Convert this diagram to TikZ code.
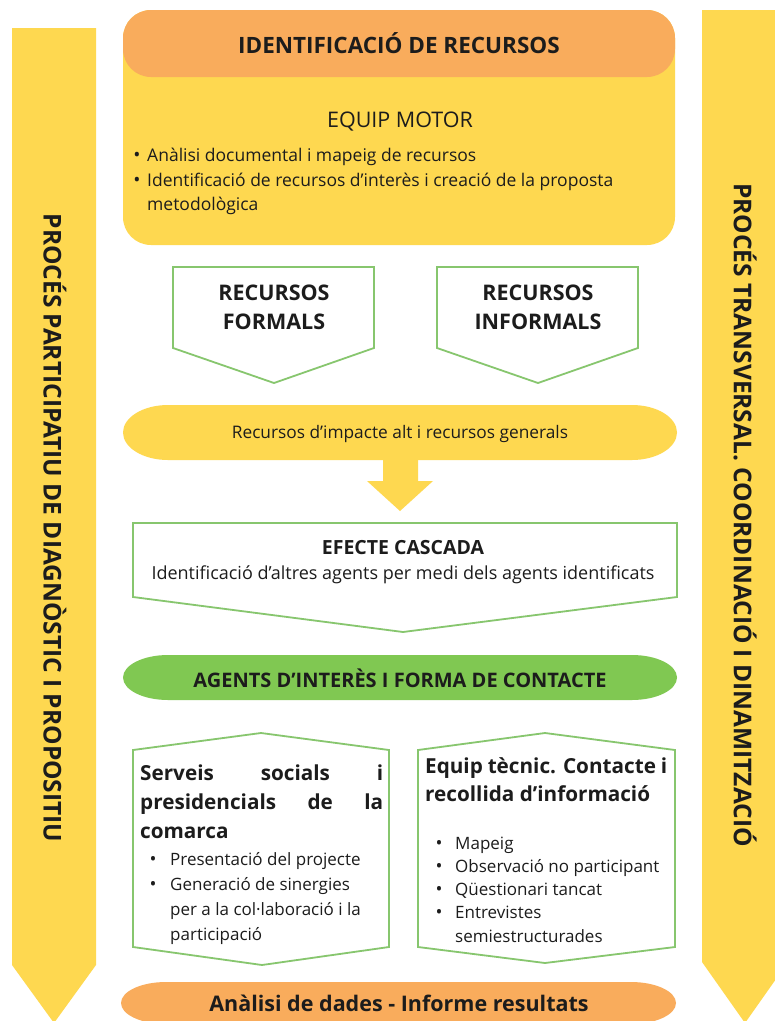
\documentclass[tikz,border=0pt]{standalone}
\usepackage{fontspec}
\setmainfont{Open Sans}
\definecolor{cyel}{RGB}{254,216,80}
\definecolor{corg}{RGB}{249,172,92}
\definecolor{cgrn}{RGB}{128,200,82}
\definecolor{cgline}{RGB}{135,198,110}
\definecolor{ctxt}{RGB}{28,28,28}
\newcommand\fsz[2]{\fontsize{#1}{#2}\selectfont}
\begin{document}
\begin{tikzpicture}[x=1pt,y=-1pt,
  every node/.style={inner sep=0pt, text=ctxt},
  gbox/.style={draw=cgline, line width=1.8pt, fill=white, line join=miter},
  side/.style={font=\bfseries\fsz{24.5}{28}, rotate=-90},
  hdr/.style={font=\bfseries\fsz{22.5}{26}},
  boxt/.style={font=\bfseries\fsz{21.5}{29}, align=center},
  smallt/.style={font=\fsz{17.5}{20}, anchor=base west},
  bul/.style={font=\fsz{19}{20}, anchor=base},
  lowt/.style={font=\bfseries\fsz{20.7}{29}, anchor=base west},
  lowb/.style={font=\fsz{17}{20}, anchor=base west},
  lowbul/.style={font=\fsz{18.5}{20}, anchor=base}
]
\useasboundingbox (0,0) rectangle (775,1021);
\fill[white] (0,0) rectangle (775,1021);
\clip (0,0) rectangle (775,1021);

% side arrows
\fill[cyel] (12,28) -- (96,28) -- (96,965) -- (54,1023) -- (12,965) -- cycle;
\fill[cyel] (702,10) -- (788,10) -- (788,962) -- (745,1023) -- (702,962) -- cycle;
\node[side] (lside) at (55,528) {PROCÉS PARTICIPATIU DE DIAGNÒSTIC I PROPOSITIU};
\node[side] (rside) at (745,515) {PROCÉS TRANSVERSAL. COORDINACIÓ I DINAMITZACIÓ};

% top box
\fill[cyel, rounded corners=28pt] (123,10) rectangle (675,245);
\fill[corg, rounded corners=28pt] (123,10) rectangle (675,77);
\node[hdr] (hdr) at (399,43) {IDENTIFICACIÓ DE RECURSOS};
\node[font=\fsz{21.5}{24}, anchor=base] (equip) at (400,127) {EQUIP MOTOR};
\node[bul] (d1) at (137,161) {•};
\node[smallt] (t1) at (147,161) {Anàlisi documental i mapeig de recursos};
\node[bul] (d2) at (137,186) {•};
\node[smallt] (t2) at (147,186) {Identificació de recursos d’interès i creació de la proposta};
\node[smallt] (t3) at (147,210) {metodològica};

% formal / informal
\draw[gbox] (173,267) -- (374,267) -- (374,348) -- (274,383) -- (173,348) -- cycle;
\draw[gbox] (437,267) -- (638,267) -- (638,348) -- (538,383) -- (437,348) -- cycle;
\node[boxt] (form) at (274,307) {RECURSOS\\FORMALS};
\node[boxt] (inform) at (538,307) {RECURSOS\\INFORMALS};

% yellow pill
\fill[cyel] (168,405) -- (632,405) arc[start angle=-90,end angle=90,x radius=45,y radius=27.5] -- (168,460) arc[start angle=90,end angle=270,x radius=45,y radius=27.5] -- cycle;
\node[font=\fsz{17.3}{20}] (imp) at (400,434) {Recursos d’impacte alt i recursos generals};

% block arrow
\fill[cyel] (383,459) -- (418,459) -- (418,481) -- (433,481) -- (400,511) -- (367,481) -- (383,481) -- cycle;

% efecte cascada
\draw[gbox] (133,523) -- (677,523) -- (677,597) -- (403,632) -- (133,597) -- cycle;
\node[font=\bfseries\fsz{19.5}{22}] (casc) at (403,548) {EFECTE CASCADA};
\node[font=\fsz{18}{20}] (casc2) at (403,575) {Identificació d’altres agents per medi dels agents identificats};

% green pill
\fill[cgrn] (168,655) -- (632,655) arc[start angle=-90,end angle=90,x radius=45,y radius=22.5] -- (168,700) arc[start angle=90,end angle=270,x radius=45,y radius=22.5] -- cycle;
\node[font=\bfseries\fsz{20}{22}] (agents) at (400,678) {AGENTS D’INTERÈS I FORMA DE CONTACTE};

% lower boxes
\draw[gbox] (133,750) -- (261,733) -- (389,750) -- (389,947) -- (262,965) -- (133,947) -- cycle;
\draw[gbox] (418,750) -- (545,733) -- (675,750) -- (675,947) -- (545,963) -- (418,947) -- cycle;

\node[lowt] (l1) at (140,780) {\hbox to 243pt{Serveis \hfill socials \hfill i}};
\node[lowt] (l2) at (140,809) {\hbox to 243pt{presidencials \hfill de \hfill la}};
\node[lowt] (l3) at (140,838) {comarca};
\node[lowbul] (lb1) at (153,865) {•};
\node[lowb] (lt1) at (170,865) {Presentació del projecte};
\node[lowbul] (lb2) at (153,890) {•};
\node[lowb] (lt2) at (170,890) {Generació de sinergies};
\node[lowb] (lt3) at (170,915) {per a la col·laboració i la};
\node[lowb] (lt4) at (170,940) {participació};

\node[lowt] (r1) at (425,773) {\hbox to 242pt{Equip \hfill tècnic. \hfill Contacte \hfill i}};
\node[lowt] (r2) at (425,801) {recollida d’informació};
\node[lowbul] (rb1) at (439,849) {•};
\node[lowb] (rt1) at (455,849) {Mapeig};
\node[lowbul] (rb2) at (439,872) {•};
\node[lowb] (rt2) at (455,872) {Observació no participant};
\node[lowbul] (rb3) at (439,895) {•};
\node[lowb] (rt3) at (455,895) {Qüestionari tancat};
\node[lowbul] (rb4) at (439,918) {•};
\node[lowb] (rt4) at (455,918) {Entrevistes};
\node[lowb] (rt5) at (455,942) {semiestructurades};

% bottom orange pill
\fill[corg] (166,982) -- (631,982) arc[start angle=-90,end angle=90,x radius=45,y radius=21] -- (166,1024) arc[start angle=90,end angle=270,x radius=45,y radius=21] -- cycle;
\node[font=\bfseries\fsz{21.5}{24}] (anal) at (399,1003) {Anàlisi de dades - Informe resultats};
\end{tikzpicture}
\end{document}
